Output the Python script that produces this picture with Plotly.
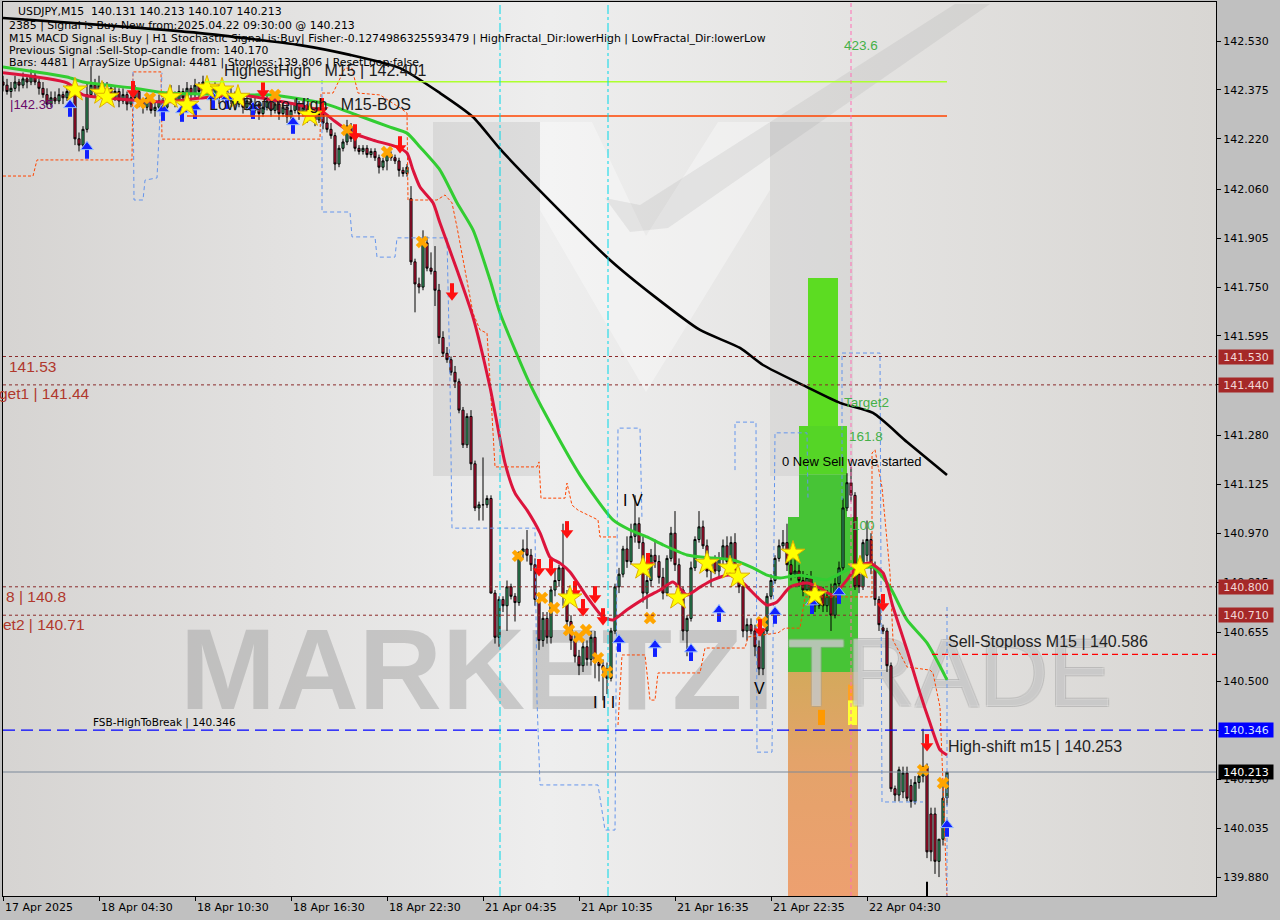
import plotly.graph_objects as go

# ---------------- DATA ----------------
tick_bars = [0, 24, 48, 72, 96, 120, 144, 168, 192, 216]
tick_labels = ["17 Apr 2025", "18 Apr 04:30", "18 Apr 10:30", "18 Apr 16:30", "18 Apr 22:30",
               "21 Apr 04:35", "21 Apr 10:35", "21 Apr 16:35", "21 Apr 22:35", "22 Apr 04:30"]

price_ticks = [142.530, 142.375, 142.220, 142.060, 141.905, 141.750, 141.595, 141.440, 141.280,
               141.125, 140.970, 140.815, 140.655, 140.500, 140.345, 140.190, 140.035, 139.880]

opens = [
 142.40,142.39,142.37,142.38,142.40,142.39,142.41,142.40,142.42,142.40,
 142.38,142.36,142.33,142.35,142.34,142.36,142.35,142.37,142.36,142.22,
 142.20,142.25,142.36,142.39,142.37,142.39,142.36,142.38,142.35,142.37,
 142.34,142.36,142.33,142.35,142.37,142.34,142.32,142.35,142.31,142.32,
 142.34,142.32,142.35,142.36,142.34,142.37,142.35,142.38,142.36,142.39,
 142.37,142.40,142.38,142.36,142.38,142.35,142.37,142.34,142.36,142.33,
 142.35,142.32,142.34,142.31,142.33,142.30,142.32,142.34,142.31,142.33,
 142.30,142.32,142.29,142.31,142.33,142.30,142.32,142.29,142.31,142.28,
 142.30,142.27,142.25,142.23,142.14,142.19,142.21,142.26,142.22,142.19,
 142.18,142.19,142.17,142.18,142.16,142.13,142.15,142.17,142.16,142.15,
 142.12,142.11,142.03,141.83,141.76,141.75,141.89,141.81,141.80,141.74,
 141.59,141.54,141.52,141.48,141.45,141.36,141.25,141.34,141.19,141.05,
 141.06,141.06,141.08,140.78,140.64,140.76,140.74,140.80,140.77,140.75,
 140.91,140.92,140.90,140.87,140.76,140.63,140.70,140.64,140.79,140.82,
 140.86,140.77,140.69,140.63,140.58,140.55,140.61,140.57,140.64,140.56,
 140.55,140.54,140.51,140.66,140.80,140.84,140.92,140.88,140.96,141.00,
 140.94,140.78,140.82,140.90,140.88,140.83,140.78,140.89,140.97,140.87,
 140.79,140.66,140.70,140.86,140.95,140.99,140.93,140.85,140.88,140.85,
 140.89,140.93,140.88,140.94,140.84,140.80,140.66,140.68,140.66,140.61,
 140.54,140.66,140.77,140.82,140.89,140.93,140.94,140.87,140.84,140.85,
 140.82,140.79,140.83,140.76,140.74,140.78,140.74,140.77,140.71,140.81,
 140.86,141.05,141.13,141.09,140.84,140.80,140.90,140.95,140.86,140.76,
 140.67,140.66,140.55,140.16,140.14,140.15,140.21,140.17,140.12,140.18,
 140.20,140.23,140.08,140.08,139.93,140.00,140.131]
highs = [
 142.42,142.41,142.40,142.42,142.41,142.43,142.42,142.44,142.43,142.41,
 142.40,142.38,142.37,142.37,142.38,142.37,142.39,142.39,142.38,142.24,
 142.26,142.40,142.45,142.41,142.42,142.40,142.40,142.39,142.39,142.38,
 142.38,142.37,142.37,142.39,142.38,142.35,142.36,142.36,142.34,142.36,
 142.35,142.37,142.39,142.37,142.39,142.38,142.40,142.39,142.41,142.40,
 142.42,142.41,142.39,142.40,142.39,142.39,142.38,142.38,142.37,142.37,
 142.36,142.36,142.35,142.35,142.34,142.34,142.36,142.35,142.35,142.34,
 142.34,142.33,142.33,142.35,142.34,142.34,142.33,142.33,142.32,142.32,
 142.31,142.29,142.27,142.24,142.20,142.22,142.28,142.27,142.23,142.20,
 142.20,142.20,142.19,142.19,142.17,142.16,142.18,142.18,142.17,142.16,
 142.13,142.14,142.07,141.84,141.78,141.93,141.91,141.86,141.88,141.76,
 141.61,141.56,141.53,141.50,141.46,141.37,141.35,141.36,141.20,141.07,
 141.21,141.09,141.09,140.79,140.77,140.77,140.82,140.81,140.78,140.91,
 140.95,140.98,140.92,140.89,140.78,140.72,140.72,140.80,140.86,140.87,
 141.00,140.79,140.71,140.65,140.60,140.63,140.63,140.66,140.66,140.58,
 140.57,140.56,140.67,140.81,140.86,140.93,140.96,141.00,141.09,141.02,
 140.96,140.84,140.92,140.95,140.90,140.86,140.90,140.99,141.04,140.89,
 140.80,140.71,140.88,140.96,141.04,141.01,140.95,140.89,140.90,140.91,
 140.95,140.96,140.96,140.97,140.86,140.82,140.70,140.70,140.68,140.63,
 140.67,140.78,140.84,140.90,140.95,140.98,141.00,140.89,140.90,140.87,
 140.85,140.84,140.85,140.78,140.80,140.80,140.79,140.81,140.83,140.88,
 141.08,141.16,141.18,141.10,140.87,140.95,141.01,140.97,140.88,140.77,
 140.68,140.67,140.56,140.17,140.23,140.23,140.23,140.19,140.20,140.21,
 140.35,140.24,140.10,140.10,140.00,140.17,140.213]
lows = [
 142.37,142.36,142.35,142.37,142.37,142.38,142.38,142.39,142.39,142.36,
 142.35,142.32,142.32,142.33,142.33,142.33,142.34,142.35,142.20,142.18,
 142.19,142.24,142.35,142.35,142.36,142.34,142.35,142.33,142.34,142.32,
 142.33,142.31,142.32,142.34,142.32,142.30,142.31,142.30,142.29,142.31,
 142.30,142.31,142.34,142.32,142.33,142.33,142.34,142.34,142.35,142.35,
 142.36,142.36,142.34,142.35,142.33,142.34,142.32,142.33,142.31,142.32,
 142.30,142.31,142.29,142.30,142.28,142.29,142.31,142.29,142.30,142.28,
 142.29,142.27,142.28,142.30,142.28,142.29,142.27,142.28,142.26,142.27,
 142.25,142.24,142.22,142.12,142.13,142.18,142.20,142.21,142.18,142.17,
 142.17,142.16,142.16,142.15,142.11,142.12,142.12,142.15,142.14,142.10,
 142.10,142.10,141.82,141.67,141.73,141.74,141.80,141.79,141.69,141.57,
 141.53,141.51,141.47,141.43,141.35,141.24,141.24,141.17,141.04,141.01,
 141.01,141.05,140.78,140.62,140.61,140.72,140.66,140.76,140.69,140.74,
 140.89,140.88,140.85,140.74,140.60,140.61,140.62,140.62,140.77,140.80,
 140.74,140.66,140.60,140.56,140.52,140.53,140.55,140.55,140.51,140.50,
 140.44,140.46,140.50,140.65,140.78,140.83,140.86,140.87,140.94,140.92,
 140.75,140.73,140.80,140.86,140.81,140.76,140.77,140.88,140.85,140.77,
 140.63,140.58,140.69,140.85,140.94,140.92,140.83,140.80,140.84,140.83,
 140.87,140.87,140.87,140.82,140.78,140.64,140.63,140.65,140.58,140.52,
 140.52,140.65,140.76,140.81,140.88,140.92,140.85,140.82,140.83,140.80,
 140.77,140.78,140.74,140.72,140.73,140.72,140.72,140.66,140.70,140.80,
 140.85,141.04,141.07,140.79,140.78,140.79,140.88,140.84,140.74,140.66,
 140.65,140.53,140.15,140.12,140.12,140.13,140.12,140.10,140.11,140.16,
 140.18,139.94,139.93,139.89,139.88,139.98,140.107]
closes = [
 142.39,142.37,142.38,142.40,142.39,142.41,142.40,142.42,142.40,142.38,
 142.36,142.33,142.35,142.34,142.36,142.35,142.37,142.36,142.22,142.20,
 142.25,142.36,142.39,142.37,142.39,142.36,142.38,142.35,142.37,142.34,
 142.36,142.33,142.35,142.37,142.34,142.32,142.35,142.31,142.32,142.34,
 142.32,142.35,142.36,142.34,142.37,142.35,142.38,142.36,142.39,142.37,
 142.40,142.38,142.36,142.38,142.35,142.37,142.34,142.36,142.33,142.35,
 142.32,142.34,142.31,142.33,142.30,142.32,142.34,142.31,142.33,142.30,
 142.32,142.29,142.31,142.33,142.30,142.32,142.29,142.31,142.28,142.30,
 142.27,142.25,142.23,142.14,142.19,142.21,142.26,142.22,142.19,142.18,
 142.19,142.17,142.18,142.16,142.13,142.15,142.17,142.16,142.15,142.12,
 142.11,142.13,141.83,141.76,141.75,141.89,141.81,141.80,141.74,141.59,
 141.54,141.52,141.48,141.45,141.36,141.25,141.34,141.19,141.05,141.06,
 141.06,141.08,140.78,140.64,140.76,140.74,140.80,140.77,140.75,140.91,
 140.92,140.90,140.87,140.76,140.63,140.70,140.64,140.79,140.82,140.86,
 140.77,140.69,140.63,140.58,140.55,140.61,140.57,140.64,140.56,140.55,
 140.54,140.51,140.66,140.80,140.84,140.92,140.88,140.96,141.00,140.94,
 140.78,140.82,140.90,140.88,140.83,140.78,140.89,140.97,140.87,140.79,
 140.66,140.70,140.86,140.95,140.99,140.93,140.85,140.88,140.85,140.89,
 140.93,140.88,140.94,140.84,140.80,140.66,140.68,140.66,140.61,140.54,
 140.66,140.77,140.82,140.89,140.93,140.94,140.87,140.84,140.85,140.82,
 140.79,140.83,140.76,140.74,140.78,140.74,140.77,140.71,140.81,140.86,
 141.05,141.13,141.09,140.80,140.80,140.94,140.95,140.86,140.76,140.68,
 140.66,140.55,140.16,140.14,140.22,140.21,140.13,140.12,140.18,140.20,
 140.23,139.96,139.96,139.93,140.00,140.13,140.213]
bars = list(range(len(closes)))

red_idx = [0,16,20,32.5,41,49.25,59.25,67.5,76,80,82.5,86.75,92.5,98.5,101,102.5,104.25,107.5,109.25,113.5,
           117.5,121.75,125.5,128,131,134.25,136.75,139.25,141.75,146,150,152.5,156,161,164.25,167.5,171,174.25,
           177.5,181.75,185,188.5,191,193.5,196.75,201,204.25,207.5,211,213.5,216.75,220,222.5,226,229.25,231.75,234.25,236]
red_val = [142.429,142.397,142.359,142.343,142.337,142.349,142.359,142.343,142.321,142.305,142.280,142.242,142.216,
           142.194,142.175,142.121,142.067,142.017,141.953,141.804,141.655,141.433,141.192,141.097,141.043,140.971,
           140.894,140.875,140.847,140.768,140.704,140.695,140.727,140.768,140.790,140.815,140.774,140.799,140.822,
           140.837,140.812,140.768,140.742,140.752,140.799,140.812,140.796,140.774,140.822,140.863,140.875,140.844,
           140.736,140.600,140.463,140.368,140.283,140.267]
green_idx = [0,16,20,32.5,41,49.25,61.75,67.5,80,88.5,96.75,101,104.25,109.25,113.5,117.5,121.75,124.25,131.25,136,
             144.25,152.5,156.75,161,165,171,177.5,182.5,187.5,191,194.25,199.25,206,211,215,217.5,221.75,226,231,236]
green_val = [142.448,142.416,142.400,142.381,142.365,142.362,142.359,142.359,142.333,142.295,142.257,142.238,142.194,
             142.121,142.017,141.931,141.773,141.668,141.456,141.338,141.154,141.012,140.980,140.958,140.933,140.901,
             140.891,140.885,140.860,140.837,140.828,140.837,140.822,140.853,140.860,140.863,140.799,140.695,140.622,140.505]
black_idx = [0,24.25,49.25,74.25,86.75,99.25,109.25,117.5,124.25,135.75,151.75,163,174.25,184.25,190,201,209.25,217.5,226,236]
black_val = [142.603,142.581,142.555,142.517,142.486,142.444,142.365,142.289,142.188,142.036,141.836,141.719,141.614,
             141.557,141.503,141.433,141.383,141.351,141.259,141.154]

orange_idx = [0,7.5,8.5,32.25,32.5,39.5,39.75,79.25,79.5,82.5,85.5,87.25,88.75,94.25,99.25,101,101.25,108.5,110.5,112.25,
              113.5,115.5,117.5,119.25,121,121.75,122.5,123,133.5,134,134.5,140.5,141,142.25,143.75,148.75,149.25,153.5,None,
              153.75,154.75,160.5,161.75,163,163.75,174.25,175.5,185.5,186.25,193.75,195.5,199.25,200.5,217.25,217.25,218,
              219.75,221.75,222.5,226,231.75,232.5,234.25,235,236]
orange_val = [142.102,142.102,142.153,142.153,142.432,142.432,142.219,142.219,142.365,142.365,142.444,142.444,142.365,
              142.359,142.318,142.302,142.026,142.026,142.042,142.017,141.940,141.804,141.668,141.614,141.604,141.455,
              141.265,141.180,141.180,141.196,141.081,141.081,141.129,141.059,141.043,141.012,140.958,140.958,None,
              140.362,140.584,140.584,140.441,140.441,140.527,140.527,140.606,140.606,140.641,140.654,140.669,140.669,
              140.768,140.768,141.224,141.234,141.116,140.844,140.631,140.546,140.536,140.527,140.419,140.178,139.817]
blue_idx = [32.5,32.75,35,35.5,38.5,39.25,39.75,None,
            79.75,79.75,86.75,87.25,93,93.5,98,98.5,111,111.75,112.25,133,133.5,134.25,148.75,150.5,153,153.75,159.25,159.75,None,
            183,183,188.25,188.5,191.75,192.25,193,201,201.25,None,
            209.75,209.75,219.25,219.75,230,None,236,236]
blue_val = [142.432,142.026,142.026,142.089,142.096,142.289,142.429,None,
            142.406,141.988,141.988,141.909,141.909,141.845,141.845,141.906,141.906,141.455,140.986,140.986,140.441,
            140.172,140.172,140.029,140.029,141.303,141.303,141.012,None,
            141.170,141.322,141.322,140.276,140.276,140.276,141.288,141.288,141.075,None,
            141.075,141.541,141.541,140.118,140.118,None,140.736,139.817]

star_idx = [18,24.75,26,41.75,46,51,54.75,58.75,76.75,141.75,160,168.75,176,181.75,183.75,197.5,203,214.25]
star_val = [142.375,142.365,142.352,142.352,142.327,142.381,142.375,142.352,142.295,140.765,140.860,140.765,140.875,
            140.860,140.831,140.907,140.774,140.860]
cross_idx = [34.25,36.75,68,86,96,104.75,128.75,134.75,137.75,141.5,144,145.75,148.75,151,161.75,189.75,230,235]
cross_val = [142.333,142.349,142.359,142.248,142.178,141.893,140.898,140.765,140.733,140.663,140.641,140.663,140.574,
             140.530,140.701,140.688,140.219,140.178]
down_idx = [32.5,65,79.75,88,99.25,112.25,141,134,137,143,148,145,150,161.25,189.25,220,231]
down_val = [142.375,142.375,142.321,142.238,142.200,141.734,140.980,140.860,140.860,140.790,140.774,140.733,140.704,
            140.879,140.669,140.749,140.305]
up_idx = [16.75,21,40,44.75,48,52.5,56,62.5,72.5,154,163,172,179,193,202.25,209,236]
up_val = [142.318,142.185,142.305,142.302,142.311,142.343,142.343,142.311,142.264,140.622,140.606,140.593,140.717,
          140.711,140.742,140.774,140.036]

levels_brown = [141.530, 141.440, 140.800, 140.710]
level_fsb = 140.346
level_stop = 140.586
level_high = 142.401
level_bos = 142.292
last_price = 140.213

# ---------------- GEOMETRY HELPERS (decoration placement only) ----------------
X0, X1 = 0.0, 303.25
Y0, Y1 = 139.820, 142.6536
PL, PT, PR, PB = 3, 2, 1216, 896
PXP = 0.00317  # price per pixel (for marker glyph offsets)


def dx(px):
    return (px - 3) / 4.0


def dy(py):
    return 142.530 - (py - 41) / 315.5


def poly(pts):
    xs = [dx(p[0]) for p in pts] + [dx(pts[0][0])]
    ys = [dy(p[1]) for p in pts] + [dy(pts[0][1])]
    return xs, ys


fig = go.Figure()

# ---- base layer (under the candles) ----
fig.add_trace(go.Scatter(x=[X0, X1, X1, X0, X0], y=[Y0, Y0, Y1, Y1, Y0], mode="lines", fill="toself",
                         line=dict(width=0),
                         fillgradient=dict(type="horizontal",
                                           colorscale=[[0, "#D6D4D2"], [0.45, "#EEEEEE"], [1, "#D8D6D3"]]),
                         hoverinfo="skip", showlegend=False))

logo_parts = [
    ([(433, 122), (540, 122), (540, 476), (433, 476)], "rgba(130,130,130,0.15)"),
    ([(770, 122), (853, 122), (853, 476), (770, 476)], "rgba(130,130,130,0.11)"),
    ([(540, 122), (592, 122), (646, 236), (718, 122), (770, 122), (770, 190), (646, 392), (540, 210)],
     "rgba(255,255,255,0.35)"),
    ([(605, 198), (640, 205), (955, 4), (990, 4), (668, 228), (630, 232)], "rgba(130,130,130,0.13)"),
]
for pts, col in logo_parts:
    xs, ys = poly(pts)
    fig.add_trace(go.Scatter(x=xs, y=ys, mode="lines", fill="toself", fillcolor=col, line=dict(width=0),
                             hoverinfo="skip", showlegend=False))

# signal zone
zone_x0, zone_x1 = 196.25, 213.75
fig.add_trace(go.Scatter(x=[zone_x0, zone_x1, zone_x1, zone_x0, zone_x0], y=[Y0, Y0, 140.530, 140.530, Y0],
                         mode="lines", fill="toself", line=dict(width=0),
                         fillgradient=dict(type="vertical", start=Y0, stop=140.530,
                                           colorscale=[[0, "#EDA070"], [0.6, "#E4A36A"], [1, "#D4A95C"]]),
                         hoverinfo="skip", showlegend=False))
fig.add_trace(go.Scatter(x=[zone_x0, zone_x1, zone_x1, 211, 211, 199, 199, zone_x0, zone_x0],
                         y=[140.530, 140.530, 141.021, 141.021, 141.157, 141.157, 141.021, 141.021, 140.530],
                         mode="lines", fill="toself", fillcolor="#47C436", line=dict(width=0),
                         hoverinfo="skip", showlegend=False))
fig.add_trace(go.Scatter(x=[199, 211, 211, 199, 199], y=[141.157, 141.157, 141.310, 141.310, 141.157],
                         mode="lines", fill="toself", fillcolor="#55D526", line=dict(width=0),
                         hoverinfo="skip", showlegend=False))
fig.add_trace(go.Scatter(x=[201.25, 208.75, 208.75, 201.25, 201.25], y=[141.310, 141.310, 141.779, 141.779, 141.310],
                         mode="lines", fill="toself", fillcolor="#5CDC22", line=dict(width=0),
                         hoverinfo="skip", showlegend=False))
for (xa, xb, ya, yb, col) in [(203.75, 205.5, 140.362, 140.410, "#FF9900"),
                              (211.25, 213.5, 140.362, 140.463, "#FFFF33"),
                              (211.25, 213.5, 140.440, 140.490, "#FFA020")]:
    fig.add_trace(go.Scatter(x=[xa, xb, xb, xa, xa], y=[ya, ya, yb, yb, ya], mode="lines", fill="toself",
                             fillcolor=col, line=dict(width=0), hoverinfo="skip", showlegend=False))

# watermark text
fig.add_trace(go.Scatter(x=[dx(180)], y=[dy(680)], mode="text", text=["MARKETZI"], textposition="middle right",
                         textfont=dict(family="Liberation Sans", size=115, color="rgba(150,150,150,0.42)",
                                       weight="bold"),
                         hoverinfo="skip", showlegend=False))
outline = ("1px 1px 0 rgba(160,160,160,0.9), -1px -1px 0 rgba(160,160,160,0.9), "
           "1px -1px 0 rgba(160,160,160,0.9), -1px 1px 0 rgba(160,160,160,0.9)")
fig.add_trace(go.Scatter(x=[dx(787)], y=[dy(682)], mode="text", text=["TRADE"], textposition="middle right",
                         textfont=dict(family="Liberation Sans", size=96, color="rgba(255,255,255,0.35)",
                                       shadow=outline),
                         hoverinfo="skip", showlegend=False))

# ---- data layer (overlay axes) ----
fig.add_trace(go.Candlestick(x=bars, open=opens, high=highs, low=lows, close=closes,
                             increasing=dict(line=dict(color="black", width=1), fillcolor="#3CB371"),
                             decreasing=dict(line=dict(color="black", width=1), fillcolor="#DC143C"),
                             whiskerwidth=0, hoverinfo="skip", showlegend=False, xaxis="x2", yaxis="y2"))

fig.add_trace(go.Scatter(x=orange_idx, y=orange_val, mode="lines", connectgaps=False,
                         line=dict(color="#FF4500", width=1, dash="3px,2px"),
                         hoverinfo="skip", showlegend=False, xaxis="x2", yaxis="y2"))
fig.add_trace(go.Scatter(x=blue_idx, y=blue_val, mode="lines", connectgaps=False,
                         line=dict(color="#6495ED", width=1, dash="4px,3px"),
                         hoverinfo="skip", showlegend=False, xaxis="x2", yaxis="y2"))

fig.add_trace(go.Scatter(x=black_idx, y=black_val, mode="lines", line=dict(color="#000000", width=2.6, shape="spline",
                                                                          smoothing=0.6),
                         hoverinfo="skip", showlegend=False, xaxis="x2", yaxis="y2"))
fig.add_trace(go.Scatter(x=green_idx, y=green_val, mode="lines", line=dict(color="#32CD32", width=3, shape="spline",
                                                                          smoothing=0.6),
                         hoverinfo="skip", showlegend=False, xaxis="x2", yaxis="y2"))
fig.add_trace(go.Scatter(x=red_idx, y=red_val, mode="lines", line=dict(color="#DC143C", width=3, shape="spline",
                                                                      smoothing=0.6),
                         hoverinfo="skip", showlegend=False, xaxis="x2", yaxis="y2"))

fig.add_trace(go.Scatter(x=cross_idx, y=cross_val, mode="markers",
                         marker=dict(symbol="x", size=11, color="#FFA500", line=dict(width=0)),
                         hoverinfo="skip", showlegend=False, xaxis="x2", yaxis="y2"))
# arrows drawn as shaft + head (MT4 wingdings style)
fig.add_trace(go.Scatter(x=down_idx, y=[v + 4 * PXP for v in down_val], mode="markers",
                         marker=dict(symbol="line-ns", size=7, line=dict(width=4, color="#FF1010")),
                         hoverinfo="skip", showlegend=False, xaxis="x2", yaxis="y2"))
fig.add_trace(go.Scatter(x=down_idx, y=[v - 3 * PXP for v in down_val], mode="markers",
                         marker=dict(symbol="triangle-down", size=11, color="#FF1010", line=dict(width=0)),
                         hoverinfo="skip", showlegend=False, xaxis="x2", yaxis="y2"))
fig.add_trace(go.Scatter(x=up_idx, y=[v - 4 * PXP for v in up_val], mode="markers",
                         marker=dict(symbol="line-ns", size=7, line=dict(width=4, color="#1020FF")),
                         hoverinfo="skip", showlegend=False, xaxis="x2", yaxis="y2"))
fig.add_trace(go.Scatter(x=up_idx, y=[v + 3 * PXP for v in up_val], mode="markers",
                         marker=dict(symbol="triangle-up", size=11, color="#1020FF", line=dict(width=1, color="#8FB8FF")),
                         hoverinfo="skip", showlegend=False, xaxis="x2", yaxis="y2"))
fig.add_trace(go.Scatter(x=star_idx, y=star_val, mode="markers",
                         marker=dict(symbol="star", size=18, color="#FFFF00", line=dict(width=1, color="#E0B000")),
                         hoverinfo="skip", showlegend=False, xaxis="x2", yaxis="y2"))

# ---------------- SHAPES ----------------
shapes = []
for lv in levels_brown:
    shapes.append(dict(type="line", xref="paper", x0=0, x1=1, yref="y2", y0=lv, y1=lv,
                       line=dict(color="#8B2A2A", width=1, dash="3px,3px")))
shapes.append(dict(type="line", xref="paper", x0=0, x1=1, yref="y2", y0=level_fsb, y1=level_fsb,
                   line=dict(color="#0000FF", width=1.3, dash="12px,6px")))
shapes.append(dict(type="line", xref="x2", x0=232.25, x1=X1, yref="y2", y0=level_stop, y1=level_stop,
                   line=dict(color="#FF0000", width=1.2, dash="6px,4px")))
shapes.append(dict(type="line", xref="x2", x0=50.5, x1=236, yref="y2", y0=level_high, y1=level_high,
                   line=dict(color="#ADFF2F", width=1.5)))
shapes.append(dict(type="line", xref="x2", x0=46, x1=236, yref="y2", y0=level_bos, y1=level_bos,
                   line=dict(color="#FF4500", width=1.5)))
shapes.append(dict(type="line", xref="paper", x0=0, x1=1, yref="y2", y0=last_price, y1=last_price,
                   line=dict(color="#7A8899", width=1)))
for vx, col, dsh in [(124.25, "#00D8E8", "dashdot"), (151.25, "#00D8E8", "dashdot"), (212, "#FF6EB4", "4px,3px")]:
    shapes.append(dict(type="line", xref="x2", x0=vx, x1=vx, yref="paper", y0=0, y1=1,
                       line=dict(color=col, width=1, dash=dsh)))
shapes.append(dict(type="line", xref="x2", x0=231, x1=231, yref="y2", y0=Y0, y1=139.865,
                   line=dict(color="black", width=2)))

# ---------------- ANNOTATIONS ----------------
W = PR - PL
H = PB - PT
ann = []


def at(text, px, py, size, color, family="Liberation Sans", xanchor="left"):
    ann.append(dict(xref="paper", yref="paper", x=(px - PL) / W, y=(PB - py) / H, text=text, showarrow=False,
                    xanchor=xanchor, yanchor="middle", font=dict(family=family, size=size, color=color)))


NB = "\u00a0"
info_lines = [
    (16, 12, "USDJPY,M15" + NB * 2 + "140.131 140.213 140.107 140.213"),
    (7, 25, "2385 | Signal is Buy-New from:2025.04.22 09:30:00 @ 140.213"),
    (7, 38, "M15 MACD Signal is:Buy | H1 Stochastic Signal is:Buy| Fisher:-0.1274986325593479 | "
            "HighFractal_Dir:lowerHigh | LowFractal_Dir:lowerLow"),
    (7, 50, "Previous Signal :Sell-Stop-candle from: 140.170"),
    (7, 62, "Bars: 4481 | ArraySize UpSignal: 4481 | Stoploss:139.806 | ResetLoop:false"),
]
for px, py, t in info_lines:
    at(t, px, py, 10.9, "#000000", family="DejaVu Sans")

at("HighestHigh" + NB * 3 + "M15 | 142.401", 222, 70, 16, "#1A1A1A")
at("Low Before High" + NB * 3 + "M15-BOS", 207, 105, 16, "#1A1A1A")
at("|142.35", 8, 105, 13, "#6A0A6A")
at("FSB-HighToBreak | 140.346", 164, 722, 10.5, "#000000", family="DejaVu Sans", xanchor="center")
at("Sell-Stoploss M15 | 140.586", 946, 642, 16, "#222222")
at("High-shift m15 | 140.253", 946, 746, 16, "#222222")
at("0 New Sell wave started", 780, 461, 13, "#000000")
at("Target2", 842, 402, 13.5, "#45B048")
at("161.8", 847, 436, 13.5, "#45B048")
at("100", 877, 525, 13.5, "#45B048", xanchor="right")
at("423.6", 842, 46, 13.5, "#45B048")
at("I" + NB + "V", 621, 500, 16, "#000000")
at("I" + NB + "I" + NB + "I", 591, 702, 16, "#000000")
at("V", 752, 688, 16, "#000000")
for t, rx, py in [("141.53", 58, 366), ("get1 | 141.44", 92, 394), ("8 | 140.8", 68, 596), ("et2 | 140.71", 87, 624)]:
    at(t, rx, py, 15.5, "#B0382C", xanchor="right")

# right-axis price boxes
for v, bg, fc in [(141.530, "#A52828", "#F2D6D6"), (141.440, "#A52828", "#F2D6D6"),
                  (140.800, "#A52828", "#F2D6D6"), (140.710, "#A52828", "#F2D6D6"),
                  (level_fsb, "#0000FF", "#D8E4FF"), (last_price, "#000000", "#FFFFFF")]:
    ann.append(dict(xref="paper", x=1, xanchor="left", xshift=2, yref="y2", y=v, yanchor="middle",
                    text=f"{v:.3f}", showarrow=False, bgcolor=bg, width=54, height=14, borderpad=0,
                    font=dict(family="DejaVu Sans", size=11, color=fc)))

# bottom time labels (left-aligned at tick, MT4 style)
for b, lab in zip(tick_bars, tick_labels):
    ann.append(dict(xref="x2", x=b, yref="paper", y=0, yshift=-3, xanchor="left", yanchor="top", text=lab,
                    showarrow=False, font=dict(family="DejaVu Sans", size=11, color="#000000")))

fig.update_layout(
    width=1280, height=920,
    margin=dict(l=PL, r=1280 - PR, t=PT, b=920 - PB),
    paper_bgcolor="#C0C0C0", plot_bgcolor="#E2E2E2",
    showlegend=False,
    xaxis=dict(range=[X0, X1], visible=False, fixedrange=True, rangeslider=dict(visible=False)),
    yaxis=dict(range=[Y0, Y1], visible=False, fixedrange=True),
    xaxis2=dict(range=[X0, X1], overlaying="x", anchor="y2", showline=True, linecolor="black", linewidth=1,
                mirror=True, ticks="outside", ticklen=4, tickcolor="black", tickvals=tick_bars,
                showticklabels=False, showgrid=False, zeroline=False, rangeslider=dict(visible=False),
                fixedrange=True),
    yaxis2=dict(range=[Y0, Y1], overlaying="y", anchor="x2", side="right", showline=True, linecolor="black",
                linewidth=1, mirror=True, ticks="outside", ticklen=4, tickcolor="black", tickvals=price_ticks,
                ticktext=[f"{v:.3f}" for v in price_ticks], showgrid=False, zeroline=False,
                tickfont=dict(family="DejaVu Sans", size=11, color="black"), fixedrange=True),
    shapes=shapes,
    annotations=ann,
    boxgap=0.25,
)

fig.write_html("out.html", config={"displayModeBar": False},
               post_script="document.body.style.margin='0';document.body.style.overflow='hidden';")
